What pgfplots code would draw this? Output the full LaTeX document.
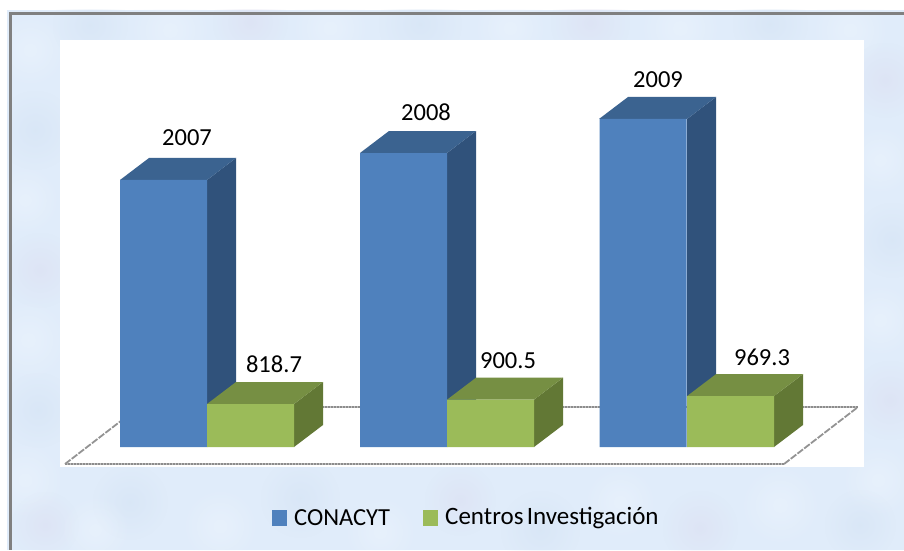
\documentclass[border=0pt]{standalone}
\usepackage{pgfplots}
\pgfplotsset{compat=1.18}
\usepackage{fontspec}
\setmainfont{Carlito}
\usetikzlibrary{fadings}
\definecolor{panel}{HTML}{E0ECFA}
\definecolor{bl}{HTML}{F2F8FF}
\definecolor{bd}{HTML}{CFDFF2}
\definecolor{bv}{HTML}{DAD9EE}
\definecolor{fb}{HTML}{4F81BD}
\definecolor{tb}{HTML}{3B6390}
\definecolor{sb}{HTML}{30527B}
\definecolor{fg}{HTML}{9BBB59}
\definecolor{tg}{HTML}{768F43}
\definecolor{sg}{HTML}{627835}
\tikzfading[name=blob, inner color=transparent!60, outer color=transparent!100]
\newcommand{\lab}{\fontsize{24.5}{24.5}\selectfont}
\begin{document}
\begin{tikzpicture}
% page and mottled panel behind the chart
\fill[white] (0,0) rectangle (904pt,550pt);
\begin{scope}
\clip (7pt,0pt) rectangle (904pt,540pt);
\fill[panel] (7pt,0pt) rectangle (904pt,540pt);
\foreach \x/\y/\r/\c in {
 30/500/38/bl, 35/420/40/bd, 25/350/36/bl, 40/280/38/bv, 28/210/42/bl, 38/140/38/bd, 25/70/40/bl, 45/25/34/bv,
 90/525/38/bd, 170/520/42/bl, 250/528/38/bv, 330/522/40/bl, 420/526/42/bd, 510/522/38/bl, 590/527/40/bv,
 680/522/42/bl, 770/526/38/bd, 850/520/40/bl, 885/470/38/bv, 880/390/36/bl, 892/310/38/bd, 880/230/38/bl,
 890/150/40/bv, 878/70/38/bl, 860/25/36/bd, 780/45/42/bl, 700/22/38/bv, 620/48/38/bl, 540/20/40/bd,
 460/50/36/bv, 380/18/38/bl, 300/52/40/bd, 220/24/40/bl, 130/48/38/bd, 95/20/36/bl}
 {\fill[\c,path fading=blob] (\x pt,\y pt) circle (\r pt);}
\end{scope}
\fill[gray] (9pt,0pt) rectangle (12pt,538pt);
\fill[gray] (9pt,535pt) rectangle (904pt,538pt);
\begin{axis}[
  at={(0pt,0pt)}, anchor=south west,
  width=904pt, height=550pt, scale only axis,
  xmin=0, xmax=904, ymin=-1961.9, ymax=8514.3,
  axis lines=none, clip=true,
  tick style={draw=none}
]
% plot area (y in value units; 1 px = 19.05 units)
\addplot[fill=white,draw=none] coordinates {(60,-381)(864,-381)(864,7752)(60,7752)} --cycle;
% floor
\addplot[draw=gray!50,line width=2.6pt] coordinates {(65,-324)(784,-324)};
\addplot[draw=gray!50,line width=2.6pt] coordinates {(139,762)(858,762)};
\addplot[draw=gray!90,line width=1.2pt,dash pattern=on 2pt off 1pt] coordinates {(65,-324)(784,-324)};
\addplot[draw=gray!90,line width=1.2pt,dash pattern=on 2pt off 1pt] coordinates {(139,762)(858,762)};
\addplot[draw=gray!85,line width=1.8pt,dash pattern=on 7pt off 1.5pt] coordinates {(65,-324)(139,762)};
\addplot[draw=gray!85,line width=1.8pt,dash pattern=on 7pt off 1.5pt] coordinates {(784,-324)(858,762)};
% blue bars
\addplot[fill=sb,draw=none] coordinates {(207,0)(236,419)(236,5505)(207,5086)} --cycle;
\addplot[fill=tb,draw=none] coordinates {(120,5086)(149,5505)(236,5505)(207,5086)} --cycle;
\addplot[fill=sb,draw=none] coordinates {(447,0)(476,419)(476,6019)(447,5600)} --cycle;
\addplot[fill=tb,draw=none] coordinates {(360,5600)(389,6019)(476,6019)(447,5600)} --cycle;
\addplot[fill=sb,draw=none] coordinates {(687,0)(716,419)(716,6667)(687,6248)} --cycle;
\addplot[fill=tb,draw=none] coordinates {(599,6248)(628,6667)(716,6667)(687,6248)} --cycle;
\addplot[ybar,bar width=87pt,bar shift=0pt,fill=fb,draw=none] coordinates {(163.5,5086)(403.5,5600)(643,6248)};
% green bars
\addplot[fill=sg,draw=none] coordinates {(294,0)(323,419)(323,1238)(294,819)} --cycle;
\addplot[fill=tg,draw=none] coordinates {(207,819)(236,1238)(323,1238)(294,819)} --cycle;
\addplot[fill=sg,draw=none] coordinates {(534,0)(563,419)(563,1320)(534,901)} --cycle;
\addplot[fill=tg,draw=none] coordinates {(447,901)(476,1320)(563,1320)(534,901)} --cycle;
\addplot[fill=sg,draw=none] coordinates {(774,0)(803,419)(803,1388)(774,969)} --cycle;
\addplot[fill=tg,draw=none] coordinates {(687,969)(716,1388)(803,1388)(774,969)} --cycle;
\addplot[ybar,bar width=87pt,bar shift=0pt,fill=fg,draw=none] coordinates {(250.5,818.7)(490.5,900.5)(730.5,969.3)};
% labels
\node[font=\lab,anchor=center] at (axis cs:187,5886) {2007};
\node[font=\lab,anchor=center] at (axis cs:426,6381) {2008};
\node[font=\lab,anchor=center] at (axis cs:658,6990) {2009};
\node[font=\lab,anchor=center] at (axis cs:274,1581) {818.7};
\node[font=\lab,anchor=center] at (axis cs:508,1638) {900.5};
\node[font=\lab,anchor=center] at (axis cs:762,1714) {969.3};
% legend
\addplot[fill=fb,draw=none] coordinates {(272,-1200)(287,-1200)(287,-1505)(272,-1505)} --cycle;
\addplot[fill=fg,draw=none] coordinates {(423,-1200)(438,-1200)(438,-1505)(423,-1505)} --cycle;
\node[font=\lab,anchor=west,inner sep=0pt] at (axis cs:294,-1352) {CONACYT};
\node[font=\fontsize{25}{25}\selectfont,anchor=west,inner sep=0pt] at (axis cs:445,-1352) {Centros\hspace{0.13em}Investigación};
\end{axis}
\end{tikzpicture}
\end{document}
